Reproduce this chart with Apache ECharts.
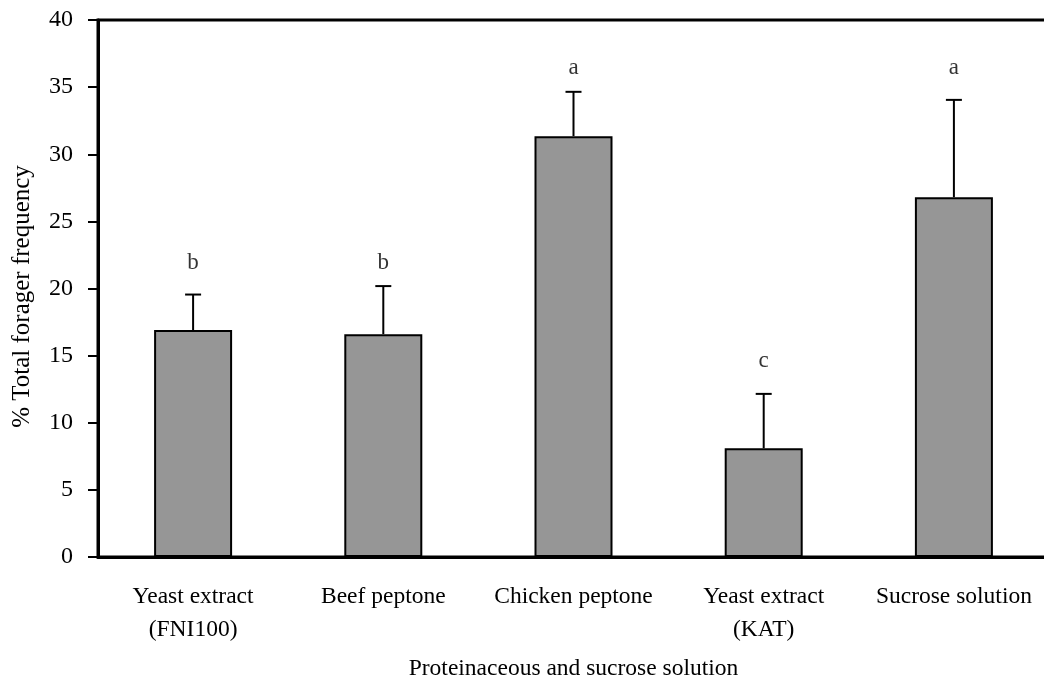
<!DOCTYPE html>
<html>
<head>
<meta charset="utf-8">
<script src="https://cdn.jsdelivr.net/npm/echarts@6/dist/echarts.min.js"></script>
<style>html,body{margin:0;padding:0;background:#fff;}#main{width:1044px;height:684px;}</style>
</head>
<body>
<div id="main"></div>
<script>
const categories = ['Yeast extract\n(FNI100)', 'Beef peptone', 'Chicken peptone', 'Yeast extract\n(KAT)', 'Sucrose solution'];
const means = [16.9, 16.6, 31.35, 8.1, 26.8];
const stdErrors = [2.65, 3.58, 3.3, 4.05, 7.25];
const letters = ['b', 'b', 'a', 'c', 'a'];
const letterLevels = [21.9, 21.9, 36.4, 14.6, 36.4];
const yTicks = [0, 5, 10, 15, 20, 25, 30, 35, 40];

const FONT = '"Liberation Serif", "Times New Roman", serif';
const chart = echarts.init(document.getElementById('main'), null, {renderer: 'canvas'});

const errData = means.map((m, i) => [i, m, stdErrors[i]]);
const letterData = letters.map((l, i) => ({value: [i, letterLevels[i]], name: l}));

chart.setOption({
  animation: false,
  backgroundColor: '#fff',
  grid: {left: 98, top: 20, width: 951, height: 537, containLabel: false, outerBoundsMode: 'none',
    show: true, borderColor: '#000', borderWidth: 3, backgroundColor: 'transparent'},
  xAxis: {
    type: 'category',
    data: categories,
    boundaryGap: true,
    axisLine: {lineStyle: {color: '#000', width: 3}},
    axisTick: {inside: true, length: 7, lineStyle: {color: '#000', width: 2}},
    axisLabel: {color: '#000', fontFamily: FONT, fontSize: 23.5, lineHeight: 33, margin: 23, interval: 0},
    name: 'Proteinaceous and sucrose solution',
    nameLocation: 'middle',
    nameGap: 100,
    nameTextStyle: {color: '#000', fontFamily: FONT, fontSize: 23.5}
  },
  yAxis: {
    type: 'value',
    min: 0, max: 40, interval: 5,
    splitLine: {show: false},
    axisLine: {show: true, lineStyle: {color: '#000', width: 3}},
    axisTick: {show: true, inside: false, length: 10, lineStyle: {color: '#000', width: 2}},
    axisLabel: {color: '#000', fontFamily: FONT, fontSize: 24, margin: 25,
      formatter: v => yTicks.includes(v) ? String(v) : ''},
    name: '% Total forager frequency',
    nameLocation: 'middle',
    nameRotate: 90,
    nameGap: 63,
    nameTextStyle: {color: '#000', fontFamily: FONT, fontSize: 25, padding: [0, 16, 0, 0]}
  },
  series: [
    {
      type: 'bar',
      data: means,
      barWidth: 78,
      itemStyle: {color: '#969696', borderColor: '#000', borderWidth: 2},
      z: 2
    },
    {
      type: 'custom',
      data: errData,
      z: 3,
      renderItem: function (params, api) {
        const i = api.value(0);
        const m = api.value(1);
        const se = api.value(2);
        const base = api.coord([i, m]);
        const top = api.coord([i, m + se]);
        const capHalf = 8;
        const style = {stroke: '#000', lineWidth: 2};
        return {
          type: 'group',
          children: [
            {type: 'line', shape: {x1: base[0], y1: base[1], x2: top[0], y2: top[1]}, style: style},
            {type: 'line', shape: {x1: top[0] - capHalf, y1: top[1], x2: top[0] + capHalf, y2: top[1]}, style: style}
          ]
        };
      }
    },
    {
      type: 'scatter',
      data: letterData,
      symbolSize: 0,
      z: 4,
      label: {
        show: true,
        position: 'inside',
        formatter: p => p.name,
        color: '#000',
        fontFamily: FONT,
        fontSize: 23
      }
    }
  ]
});
</script>
</body>
</html>
